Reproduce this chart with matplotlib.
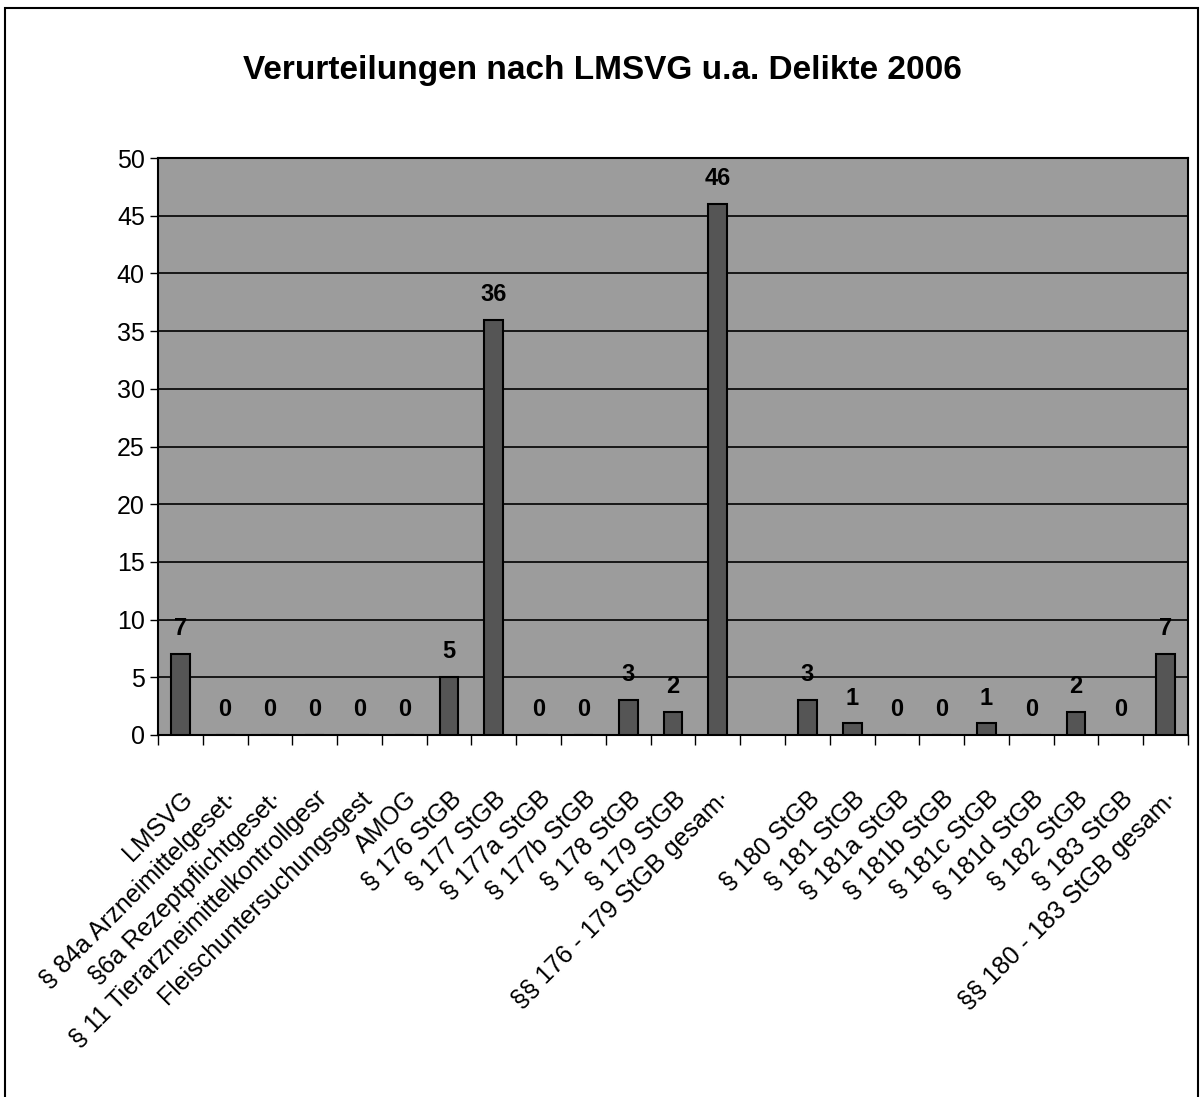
import matplotlib.pyplot as plt
import matplotlib.patches as patches
import numpy as np

plt.rcParams['font.family'] = ['Liberation Sans', 'DejaVu Sans']

categories = ["LMSVG", "§ 84a Arzneimittelgeset·", "§6a Rezeptpflichtgeset·",
              "§ 11 Tierarzneimittelkontrollgesr", "Fleischuntersuchungsgest", "AMOG",
              "§ 176 StGB", "§ 177 StGB", "§ 177a StGB", "§ 177b StGB", "§ 178 StGB",
              "§ 179 StGB", "§§ 176 - 179 StGB gesam·", "",
              "§ 180 StGB", "§ 181 StGB", "§ 181a StGB", "§ 181b StGB", "§ 181c StGB",
              "§ 181d StGB", "§ 182 StGB", "§ 183 StGB", "§§ 180 - 183 StGB gesam·"]
values = [7, 0, 0, 0, 0, 0, 5, 36, 0, 0, 3, 2, 46, None,
          3, 1, 0, 0, 1, 0, 2, 0, 7]
yticks = list(range(0, 51, 5))
title = "Verurteilungen nach LMSVG u.a. Delikte 2006"

fig = plt.figure(figsize=(12.04, 10.97), dpi=100)
ax = fig.add_axes([158/1204, 1-735/1097, 1030/1204, 577/1097])
ax.set_facecolor('#9c9c9c')

x = np.arange(len(categories))
for i, v in enumerate(values):
    if v is None:
        continue
    ax.bar(i, v, width=0.42, color='#555555', edgecolor='black', linewidth=1.5, zorder=3)
    ax.annotate(str(v), (i, v), xytext=(0, 10), textcoords='offset points',
                ha='center', va='bottom', fontsize=17, fontweight='bold', zorder=4)

ax.set_xlim(-0.5, len(categories) - 0.5)
ax.set_ylim(0, 50)
ax.set_yticks(yticks)
ax.yaxis.grid(True, color='black', linewidth=1.2, zorder=1)
ax.set_axisbelow(True)
ax.tick_params(axis='y', labelsize=18, length=6, width=1, direction='out')

ax.set_xticks(x)
ax.set_xticklabels(categories, rotation=45, ha='right', va='top',
                   rotation_mode='anchor', fontsize=18)
ax.tick_params(axis='x', which='major', length=0, pad=37)
ax.set_xticks(np.arange(-0.5, len(categories)), minor=True)
ax.tick_params(axis='x', which='minor', length=7, width=1, direction='out')

for s in ax.spines.values():
    s.set_linewidth(1.5)
    s.set_color('black')

fig.text(0.5, 1-70/1097, title, ha='center', va='center', fontsize=24,
         fontweight='bold')

border = patches.Rectangle((5/1204, -0.1), 1193/1204, 1.1 - 8/1097,
                           transform=fig.transFigure, fill=False,
                           edgecolor='black', linewidth=1.5, clip_on=False)
fig.patches.append(border)

fig.savefig('out.png', dpi=100, facecolor='white')
